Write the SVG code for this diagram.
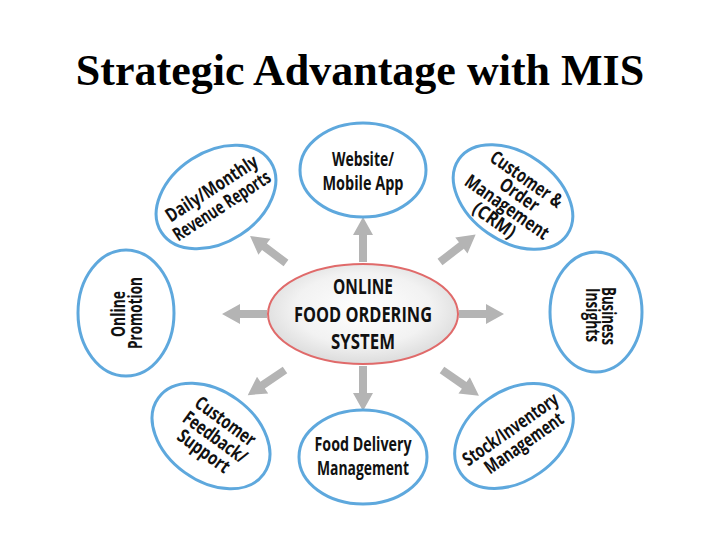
<svg xmlns="http://www.w3.org/2000/svg" width="720" height="540" viewBox="0 0 720 540">
<style>
.title{font-family:"Liberation Serif","Times New Roman",serif;font-weight:bold;font-size:44px;fill:#000}
.node{fill:#fff;stroke:#5ea8dd;stroke-width:3}
.lbl{font-family:"Open Sans","Noto Sans","Liberation Sans",sans-serif;font-weight:bold;font-size:19px;fill:#111;text-anchor:middle}
.ctr{font-family:"Open Sans","Noto Sans","Liberation Sans",sans-serif;font-weight:bold;font-size:21px;fill:#111;text-anchor:middle}
.arrow{fill:#b4b4b4}
</style>
<defs>
<radialGradient id="cg" cx="50%" cy="45%" r="60%">
<stop offset="0" stop-color="#ffffff"/>
<stop offset="0.6" stop-color="#f2f2f2"/>
<stop offset="1" stop-color="#d6d6d6"/>
</radialGradient>
<path id="arr" d="M0,-4 L27,-4 L27,-10 L45,0 L27,10 L27,4 L0,4 Z"/>
</defs>
<rect width="720" height="540" fill="#fff"/>
<text class="title" x="360" y="85" text-anchor="middle">Strategic Advantage with MIS</text>

<g id="connectors" class="arrow">
<use href="#arr" transform="translate(363,262) rotate(-90)"/>
<use href="#arr" transform="translate(363,366) rotate(90)"/>
<use href="#arr" transform="translate(267,314) rotate(180)"/>
<use href="#arr" transform="translate(459,314)"/>
<use href="#arr" transform="translate(286,263) rotate(-143)"/>
<use href="#arr" transform="translate(440,262) rotate(-37.6)"/>
<use href="#arr" transform="translate(285,370) rotate(146)"/>
<use href="#arr" transform="translate(442,370) rotate(34.8)"/>
</g>

<g id="center">
<ellipse cx="363" cy="314" rx="95" ry="50" fill="url(#cg)" stroke="#e06a6a" stroke-width="2"/>
<text class="ctr" x="363" y="294" textLength="60" lengthAdjust="spacingAndGlyphs">ONLINE</text>
<text class="ctr" x="363" y="322" textLength="138" lengthAdjust="spacingAndGlyphs">FOOD ORDERING</text>
<text class="ctr" x="363" y="349" textLength="64" lengthAdjust="spacingAndGlyphs">SYSTEM</text>
</g>

<g id="website">
<ellipse class="node" cx="363" cy="170" rx="63" ry="47"/>
<text class="lbl" x="363" y="166" font-size="17" textLength="62" lengthAdjust="spacingAndGlyphs">Website/</text>
<text class="lbl" x="363" y="190" font-size="17" textLength="81" lengthAdjust="spacingAndGlyphs">Mobile App</text>
</g>

<g id="reports" transform="rotate(-33 216 197)">
<ellipse class="node" cx="216" cy="197" rx="65" ry="45"/>
<text class="lbl" x="217" y="194" textLength="106" lengthAdjust="spacingAndGlyphs">Daily/Monthly</text>
<text class="lbl" x="216" y="214" textLength="112" lengthAdjust="spacingAndGlyphs">Revenue Reports</text>
</g>

<g id="crm" transform="rotate(35 513 197)">
<ellipse class="node" cx="513" cy="197" rx="66" ry="44"/>
<text class="lbl" x="514" y="181" font-size="17" textLength="84" lengthAdjust="spacingAndGlyphs">Customer &amp;</text>
<text class="lbl" x="517" y="198" font-size="17" textLength="44" lengthAdjust="spacingAndGlyphs">Order</text>
<text class="lbl" x="514" y="215" font-size="17" textLength="98" lengthAdjust="spacingAndGlyphs">Management</text>
<text class="lbl" x="511" y="233" font-size="17" textLength="48" lengthAdjust="spacingAndGlyphs">(CRM)</text>
</g>

<g id="promotion">
<ellipse class="node" cx="126" cy="313" rx="48" ry="63"/>
<g transform="rotate(-90 126 313)">
<text class="lbl" x="125" y="312" font-size="18" textLength="46" lengthAdjust="spacingAndGlyphs">Online</text>
<text class="lbl" x="126" y="329" font-size="18" textLength="72" lengthAdjust="spacingAndGlyphs">Promotion</text>
</g>
</g>

<g id="insights">
<ellipse class="node" cx="596" cy="312" rx="46" ry="60"/>
<g transform="rotate(90 596 312)">
<text class="lbl" x="600" y="306" font-size="18" textLength="58" lengthAdjust="spacingAndGlyphs">Business</text>
<text class="lbl" x="599" y="322" font-size="18" textLength="54" lengthAdjust="spacingAndGlyphs">Insights</text>
</g>
</g>

<g id="feedback" transform="rotate(36 211 436)">
<ellipse class="node" cx="211" cy="436" rx="65" ry="45"/>
<text class="lbl" x="214" y="422" textLength="70" lengthAdjust="spacingAndGlyphs">Customer</text>
<text class="lbl" x="215" y="441" textLength="74" lengthAdjust="spacingAndGlyphs">Feedback/</text>
<text class="lbl" x="214" y="459" textLength="60" lengthAdjust="spacingAndGlyphs">Support</text>
</g>

<g id="delivery">
<ellipse class="node" cx="363" cy="457" rx="64" ry="47"/>
<text class="lbl" x="363" y="451" font-size="17" textLength="97" lengthAdjust="spacingAndGlyphs">Food Delivery</text>
<text class="lbl" x="363" y="475" font-size="17" font-weight="600" textLength="92" lengthAdjust="spacingAndGlyphs">Management</text>
</g>

<g id="stock" transform="rotate(-35 514 436)">
<ellipse class="node" cx="514" cy="436" rx="65" ry="45"/>
<text class="lbl" x="515" y="435" textLength="112" lengthAdjust="spacingAndGlyphs">Stock/Inventory</text>
<text class="lbl" x="518" y="454" textLength="92" lengthAdjust="spacingAndGlyphs">Management</text>
</g>
</svg>
